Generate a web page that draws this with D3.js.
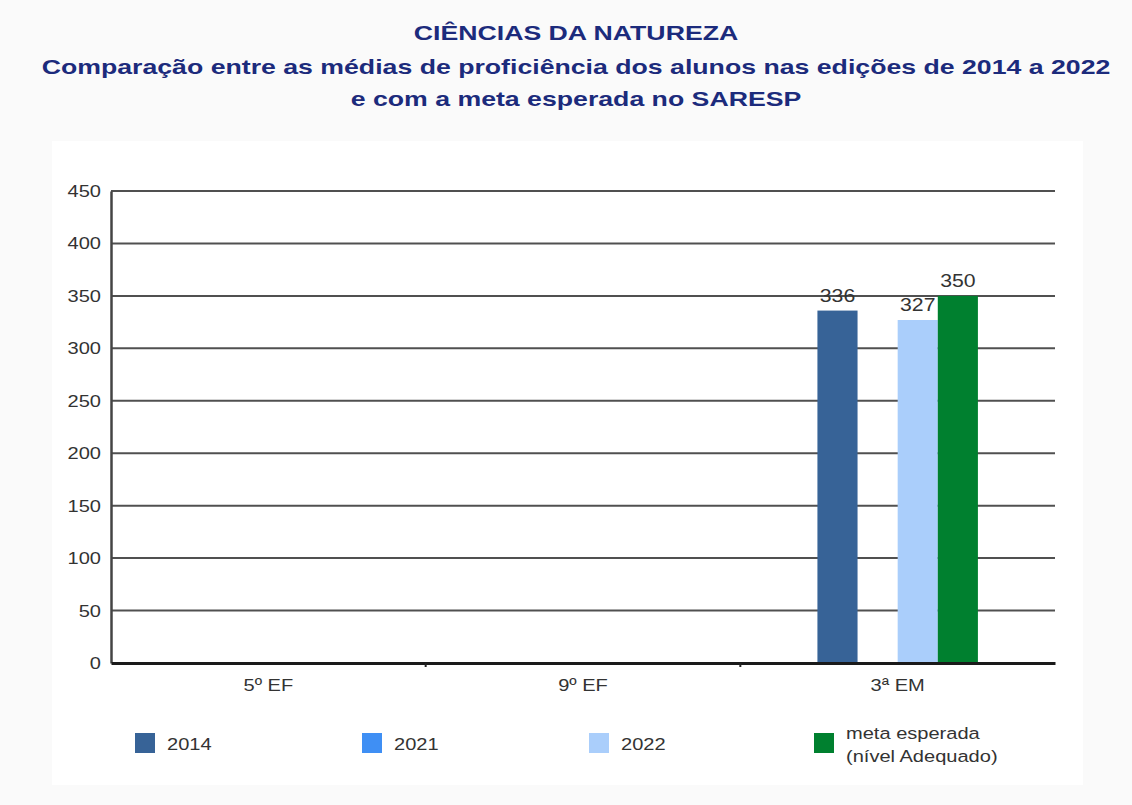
<!DOCTYPE html>
<html>
<head>
<meta charset="utf-8">
<script src="https://cdn.jsdelivr.net/npm/d3@7/dist/d3.min.js"></script>
<style>
  html, body { margin: 0; padding: 0; background: #fafafa; }
  svg { display: block; font-family: "Liberation Sans", Arial, sans-serif; }
</style>
</head>
<body>
<svg id="chart" width="1132" height="805"></svg>
<script>
// Grades and editions
const categories = ["5º EF", "9º EF", "3ª EM"];
const seriesNames = ["2014", "2021", "2022", "meta"];
const legendLabels = [["2014"], ["2021"], ["2022"], ["meta esperada", "(nível Adequado)"]];
const seriesColors = ["#376397", "#3f8ff4", "#aacefb", "#00802f"];

// Mean proficiency per grade (null = no result)
const values2014 = [null, null, 336];
const values2021 = [null, null, null];
const values2022 = [null, null, 327];
const valuesMeta = [null, null, 350];

const yTicks = [0, 50, 100, 150, 200, 250, 300, 350, 400, 450];
const titleLines = [
  "CIÊNCIAS DA NATUREZA",
  "Comparação entre as médias de proficiência dos alunos nas edições de 2014 a 2022",
  "e com a meta esperada no SARESP"
];

const seriesValues = [values2014, values2021, values2022, valuesMeta];

const svg = d3.select("#chart");
const SX = 1.18; // horizontal text stretch

function stretchedText(g, x, y, str, anchor, sx) {
  return g.append("text")
    .attr("transform", `translate(${x},${y}) scale(${sx},1)`)
    .attr("text-anchor", anchor)
    .text(str);
}

// Page and chart panel
svg.append("rect").attr("x", 0).attr("y", 0).attr("width", 1132).attr("height", 805).attr("fill", "#fafafa");
svg.append("rect").attr("x", 52).attr("y", 141).attr("width", 1031).attr("height", 644).attr("fill", "#ffffff");

// Title
const titleG = svg.append("g").attr("fill", "#1c2b7c").attr("font-weight", "bold").attr("font-size", 21);
const titleY = [40, 74, 106];
titleLines.forEach((t, i) => stretchedText(titleG, 576, titleY[i], t, "middle", 1.27));

const margin = { left: 111, right: 1055, top: 191, bottom: 663 };

const x = d3.scaleBand().domain(categories).range([margin.left, margin.right]).paddingInner(0).paddingOuter(0);
const groupFrac = 0.51;
const x1 = d3.scaleBand().domain(seriesNames)
  .range([x.bandwidth() * (1 - groupFrac) / 2, x.bandwidth() * (1 + groupFrac) / 2])
  .padding(0);
const y = d3.scaleLinear().domain([0, 450]).range([margin.bottom, margin.top]);

// Horizontal gridlines
svg.append("g")
  .selectAll("line")
  .data(yTicks.filter(d => d > 0))
  .join("line")
  .attr("x1", margin.left).attr("x2", margin.right)
  .attr("y1", d => y(d)).attr("y2", d => y(d))
  .attr("stroke", "#505050").attr("stroke-width", 2);

// Y axis
const yAxis = svg.append("g")
  .attr("transform", `translate(${margin.left},0)`)
  .call(d3.axisLeft(y).tickValues(yTicks).tickSize(0).tickPadding(10));
yAxis.select(".domain").attr("stroke", "#444").attr("stroke-width", 2.5);
yAxis.selectAll("text").remove();
const yLab = svg.append("g").attr("font-size", 17).attr("fill", "#333");
yTicks.forEach(v => stretchedText(yLab, 101, y(v) + 6, String(v), "end", SX));

// Bars
const groups = svg.append("g")
  .selectAll("g")
  .data(categories)
  .join("g")
  .attr("transform", d => `translate(${x(d)},0)`);

groups.selectAll("rect")
  .data((d, ci) => seriesNames.map((s, si) => ({ s, si, v: seriesValues[si][ci] })).filter(e => e.v != null))
  .join("rect")
  .attr("x", d => x1(d.s))
  .attr("width", x1.bandwidth())
  .attr("y", d => y(d.v))
  .attr("height", d => y(0) - y(d.v))
  .attr("fill", d => seriesColors[d.si]);

// Value labels
groups.each(function (cat, ci) {
  const g = d3.select(this).append("g").attr("font-size", 18).attr("fill", "#333");
  seriesNames.forEach((s, si) => {
    const v = seriesValues[si][ci];
    if (v == null) return;
    stretchedText(g, x1(s) + x1.bandwidth() / 2, y(v) - 9, String(v), "middle", SX);
  });
});

// X axis
const xAxis = svg.append("g")
  .attr("transform", `translate(0,${margin.bottom})`)
  .call(d3.axisBottom(x).tickSize(0).tickPadding(0));
xAxis.select(".domain").attr("stroke", "#1a1a1a").attr("stroke-width", 3);
xAxis.selectAll("text").remove();
// small separators between grades
svg.append("g").selectAll("line")
  .data(categories.slice(1))
  .join("line")
  .attr("x1", d => x(d)).attr("x2", d => x(d))
  .attr("y1", margin.bottom).attr("y2", margin.bottom + 4)
  .attr("stroke", "#222").attr("stroke-width", 2);
const xLab = svg.append("g").attr("font-size", 17).attr("fill", "#333");
categories.forEach(c => stretchedText(xLab, x(c) + x.bandwidth() / 2, 691, c, "middle", SX));

// Legend
const legendX = [135, 362, 589, 814];
const legend = svg.append("g").attr("font-size", 17).attr("fill", "#333");
seriesNames.forEach((s, i) => {
  legend.append("rect")
    .attr("x", legendX[i]).attr("y", 733).attr("width", 20).attr("height", 20)
    .attr("fill", seriesColors[i]);
  const lines = legendLabels[i];
  if (lines.length === 1) {
    stretchedText(legend, legendX[i] + 32, 750, lines[0], "start", SX);
  } else {
    stretchedText(legend, legendX[i] + 32, 739, lines[0], "start", SX);
    stretchedText(legend, legendX[i] + 32, 762, lines[1], "start", SX);
  }
});
</script>
</body>
</html>
